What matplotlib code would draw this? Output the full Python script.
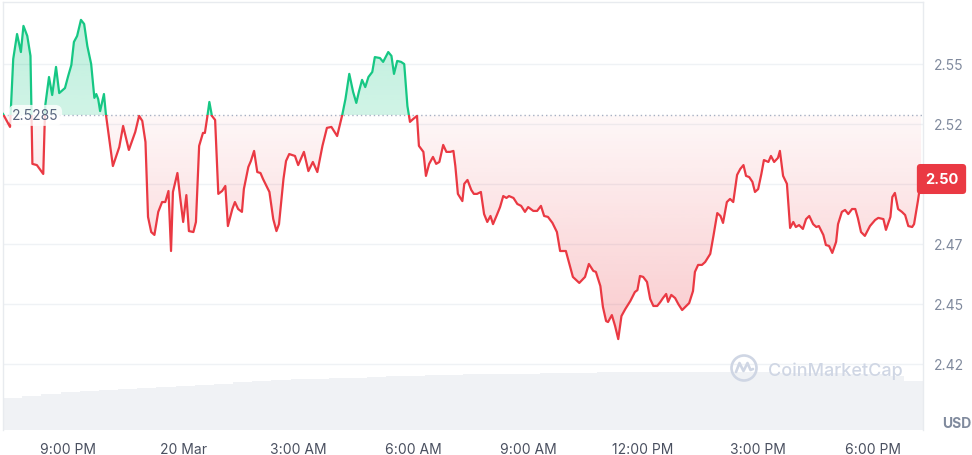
import numpy as np
import matplotlib.pyplot as plt
import matplotlib.colors as mcolors
from matplotlib.path import Path
from matplotlib.patches import Rectangle, Circle
from matplotlib.transforms import blended_transform_factory

plt.rcParams['font.family'] = ['Inter', 'DejaVu Sans']

# price trace: minutes from 20 Mar 00:00 and price in USD
minutes = [
    -282, -271, -266, -260, -254, -250, -244, -239, -236, -229, -219, -216, -210, -205, -199, -194,
    -185, -180, -175, -171, -166, -160, -155, -150, -144, -139, -136, -133, -130, -124, -121, -110,
    -100, -94, -85, -75, -69, -64, -59, -55, -50, -45, -39, -33, -28, -23, -19, -16,
    -9, -5, 0, 5, 9, 16, 20, 25, 31, 34, 38, 41, 45, 50, 55, 61,
    66, 70, 77, 81, 86, 92, 95, 102, 106, 111, 116, 121, 125, 135, 141, 146,
    150, 157, 161, 166, 175, 180, 189, 196, 203, 210, 218, 225, 232, 241, 249, 254,
    260, 266, 271, 275, 280, 285, 290, 296, 300, 308, 313, 321, 326, 330, 335, 341,
    346, 351, 355, 360, 366, 369, 376, 380, 385, 391, 396, 401, 407, 412, 418, 423,
    426, 430, 437, 440, 445, 451, 455, 460, 466, 471, 476, 481, 485, 491, 496, 501,
    506, 510, 517, 523, 529, 535, 540, 548, 554, 560, 565, 571, 578, 585, 590, 599,
    610, 620, 629, 635, 642, 646, 653, 657, 662, 665, 671, 676, 681, 686, 692, 700,
    707, 711, 715, 720, 726, 731, 736, 742, 747, 751, 756, 759, 764, 770, 775, 781,
    786, 792, 798, 801, 806, 812, 817, 825, 830, 836, 841, 845, 851, 856, 861, 867,
    872, 877, 881, 886, 891, 895, 900, 905, 909, 916, 920, 925, 931, 934, 939, 945,
    950, 955, 959, 964, 970, 975, 980, 986, 991, 995, 1002, 1006, 1011, 1016, 1022, 1025,
    1031, 1036, 1041, 1047, 1052, 1056, 1061, 1067, 1075, 1083, 1088, 1096, 1100, 1107, 1110, 1114,
    1119, 1125, 1130, 1135, 1141, 1144, 1150, 1155,
]
prices = [
    2.5291, 2.5237, 2.5520, 2.5624, 2.5549, 2.5658, 2.5616, 2.5533, 2.5083, 2.5078, 2.5041, 2.5324, 2.5445, 2.5370, 2.5487, 2.5378,
    2.5399, 2.5449, 2.5495, 2.5591, 2.5616, 2.5683, 2.5666, 2.5574, 2.5499, 2.5358, 2.5374, 2.5353, 2.5303, 2.5374, 2.5291, 2.5074,
    2.5153, 2.5241, 2.5141, 2.5216, 2.5283, 2.5262, 2.5174, 2.4862, 2.4799, 2.4787, 2.4883, 2.4924, 2.4924, 2.4970, 2.4720, 2.4966,
    2.5045, 2.4949, 2.4841, 2.4953, 2.4803, 2.4799, 2.4841, 2.5158, 2.5212, 2.5212, 2.5283, 2.5341, 2.5283, 2.5266, 2.4958, 2.4970,
    2.4991, 2.4824, 2.4895, 2.4924, 2.4895, 2.4883, 2.4978, 2.5070, 2.5095, 2.5137, 2.5049, 2.5045, 2.5020, 2.4966, 2.4853, 2.4803,
    2.4832, 2.5020, 2.5095, 2.5124, 2.5116, 2.5078, 2.5133, 2.5053, 2.5091, 2.5049, 2.5158, 2.5233, 2.5237, 2.5199, 2.5287, 2.5353,
    2.5458, 2.5383, 2.5337, 2.5383, 2.5433, 2.5403, 2.5445, 2.5466, 2.5528, 2.5524, 2.5508, 2.5549, 2.5533, 2.5458, 2.5512, 2.5508,
    2.5499, 2.5324, 2.5258, 2.5270, 2.5283, 2.5158, 2.5133, 2.5033, 2.5083, 2.5112, 2.5083, 2.5091, 2.5162, 2.5133, 2.5133, 2.5137,
    2.5074, 2.4958, 2.4928, 2.5000, 2.5016, 2.4974, 2.4958, 2.4958, 2.4966, 2.4874, 2.4841, 2.4866, 2.4832, 2.4870, 2.4903, 2.4949,
    2.4941, 2.4949, 2.4941, 2.4916, 2.4908, 2.4883, 2.4903, 2.4887, 2.4887, 2.4908, 2.4866, 2.4862, 2.4837, 2.4799, 2.4720, 2.4720,
    2.4612, 2.4587, 2.4612, 2.4666, 2.4637, 2.4633, 2.4574, 2.4487, 2.4428, 2.4424, 2.4453, 2.4408, 2.4353, 2.4449, 2.4478, 2.4512,
    2.4549, 2.4557, 2.4616, 2.4612, 2.4591, 2.4520, 2.4491, 2.4491, 2.4508, 2.4524, 2.4541, 2.4508, 2.4537, 2.4524, 2.4499, 2.4474,
    2.4487, 2.4503, 2.4553, 2.4633, 2.4662, 2.4662, 2.4674, 2.4708, 2.4783, 2.4878, 2.4866, 2.4837, 2.4924, 2.4937, 2.4924, 2.5037,
    2.5062, 2.5078, 2.5033, 2.5028, 2.5008, 2.4966, 2.4978, 2.5041, 2.5099, 2.5091, 2.5116, 2.5091, 2.5108, 2.5137, 2.5033, 2.5000,
    2.4816, 2.4841, 2.4820, 2.4828, 2.4812, 2.4853, 2.4866, 2.4832, 2.4820, 2.4824, 2.4787, 2.4745, 2.4741, 2.4712, 2.4758, 2.4832,
    2.4883, 2.4891, 2.4874, 2.4895, 2.4895, 2.4858, 2.4799, 2.4783, 2.4824, 2.4849, 2.4858, 2.4853, 2.4808, 2.4862, 2.4945, 2.4962,
    2.4895, 2.4883, 2.4870, 2.4824, 2.4820, 2.4832, 2.4928, 2.5020,
]
open_price = 2.5285

# rolling volume, one bar per 30 min (arbitrary units)
vol_start = -282
vol_step = 30
volume = [160, 170, 180, 190, 195, 200, 205, 210, 215, 220, 225, 230, 240, 245, 250, 255,
          255, 260, 260, 265, 270, 270, 275, 275, 280, 280, 280, 280, 285, 285, 285, 290,
          290, 290, 290, 290, 290, 290, 290, 290, 285, 285, 285, 285, 280, 280, 270, 245]

x_tick_minutes = [-180, 0, 180, 360, 540, 720, 900, 1080]
x_tick_labels = ['9:00 PM', '20 Mar', '3:00 AM', '6:00 AM', '9:00 AM', '12:00 PM', '3:00 PM', '6:00 PM']
y_ticks = [2.425, 2.45, 2.475, 2.50, 2.525, 2.55]
y_tick_labels = ['2.42', '2.45', '2.47', '2.50', '2.52', '2.55']

GREEN = '#16c784'
RED = '#ea3943'
XLIM = (-282, 1158)
YLIM = (2.39742, 2.57575)

fig = plt.figure(figsize=(9.72, 4.56), dpi=100)
rect = [3 / 972, 25 / 456, 920 / 972, 428 / 456]

# volume underneath
axv = fig.add_axes(rect)
vt = vol_start + np.arange(len(volume)) * vol_step
axv.bar(vt, volume, width=vol_step, align='edge', color='#f0f2f5', lw=0)
axv.set_xlim(XLIM)
axv.set_ylim(0, 428 * 5)
axv.axis('off')

ax = fig.add_axes(rect)
ax.patch.set_visible(False)
t = np.array(minutes)
p = np.array(prices)


def gradient_fill(where, color, alpha_near, alpha_far, far):
    coll = ax.fill_between(t, p, open_price, where=where, interpolate=True,
                           facecolor='none', edgecolor='none')
    path = Path.make_compound_path(*coll.get_paths())
    img = np.zeros((256, 1, 4))
    img[..., :3] = mcolors.to_rgb(color)
    lo, hi = min(open_price, far), max(open_price, far)
    if far < open_price:
        img[:, 0, 3] = np.linspace(alpha_far, alpha_near, 256)
    else:
        img[:, 0, 3] = np.linspace(alpha_near, alpha_far, 256)
    im = ax.imshow(img, extent=(t[0], t[-1], lo, hi), origin='lower',
                   aspect='auto', interpolation='bilinear', zorder=2)
    im.set_clip_path(path, ax.transData)


gradient_fill(p >= open_price, GREEN, 0.20, 0.28, 2.57)
gradient_fill(p <= open_price, RED, 0.04, 0.27, 2.435)

# line: green above the open price, red below
for color, y0, y1 in [(GREEN, open_price, YLIM[1]), (RED, YLIM[0], open_price)]:
    ln, = ax.plot(t, p, color=color, lw=1.6, solid_joinstyle='round', zorder=4)
    ln.set_clip_path(Rectangle((XLIM[0], y0), XLIM[1] - XLIM[0], y1 - y0, transform=ax.transData))

ax.axhline(open_price, color='#a6b0c3', lw=1, dashes=(1, 2.1), zorder=3)

# the tick hidden under the last-price tag is left blank
last_label = f'{prices[-1]:.2f}'
shown_y_labels = ['' if lab == last_label else lab for lab in y_tick_labels]

ax.set_xlim(XLIM)
ax.set_ylim(YLIM)
ax.set_xticks(x_tick_minutes)
ax.set_xticklabels(x_tick_labels)
ax.yaxis.tick_right()
ax.set_yticks(y_ticks)
ax.set_yticklabels(shown_y_labels)
ax.grid(axis='y', color='#eff2f5', lw=1)
ax.set_axisbelow(True)
ax.tick_params(axis='y', length=0, pad=8, labelsize=10, labelcolor='#808a9d')
ax.tick_params(axis='x', length=0, pad=8.5, labelsize=10, labelcolor='#4a5060')
ax.spines['bottom'].set_visible(False)
for s in ['top', 'left', 'right']:
    ax.spines[s].set_color('#e8ebef')
    ax.spines[s].set_linewidth(1)

# open price tag
ax.text(0.0098, open_price, f'{open_price:.4f}', transform=blended_transform_factory(ax.transAxes, ax.transData),
        ha='left', va='center', fontsize=10, color='#58667e', zorder=6,
        bbox=dict(boxstyle='round,pad=0.25,rounding_size=0.5', fc='white', alpha=0.8, ec='none'))

# last price tag
ax.text(941.5 / 972, prices[-1], last_label, transform=blended_transform_factory(fig.transFigure, ax.transData),
        ha='center', va='center', fontsize=10.5, fontweight='bold', color='white', zorder=10, clip_on=False,
        bbox=dict(boxstyle='round,pad=0.55,rounding_size=0.25', fc=RED, ec='none'))

fig.text(0.999, 1 - 424 / 456, 'USD', ha='right', va='center', fontsize=10, fontweight='bold', color='#808a9d')

# watermark
fig.text(768 / 972, 1 - 371 / 456, 'CoinMarketCap', ha='left', va='center', fontsize=13,
         fontweight='medium', color='#cfd6e4')
axl = fig.add_axes([729 / 972, 1 - 384 / 456, 30 / 972, 30 / 456])
axl.set_xlim(-15, 15)
axl.set_ylim(-15, 15)
axl.axis('off')
axl.add_patch(Circle((0, 0), 12.5, fill=False, ec='#cfd6e4', lw=1.9))
axl.plot([-8, -4.5, -0.5, 3.5, 6.5, 9], [-4, 5, -3, 5, -2, -1], color='#cfd6e4', lw=1.9,
         solid_joinstyle='round', solid_capstyle='round')

fig.savefig('out.png', dpi=100)
